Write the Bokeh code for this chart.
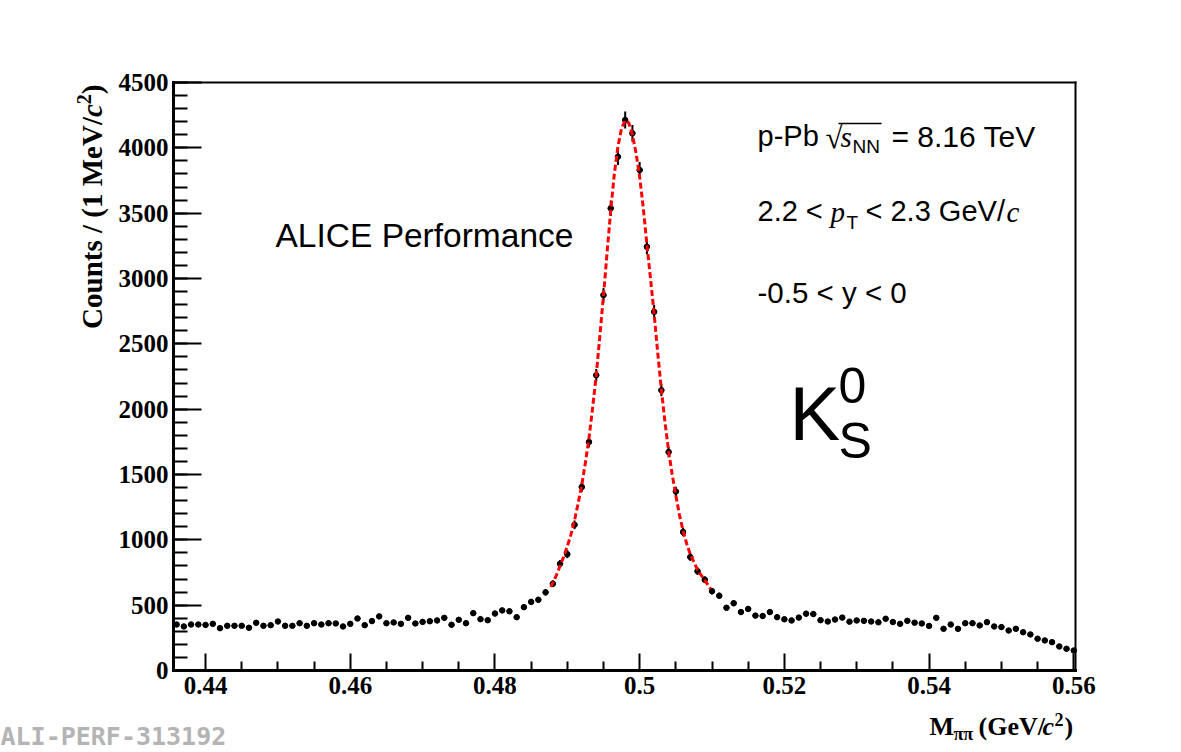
import numpy as np
from bokeh.plotting import figure
from bokeh.models import Label, FixedTicker, CustomJSTickFormatter, Range1d, LinearAxis
from bokeh.embed import file_html
from bokeh.resources import INLINE

# ---------------- data ----------------
bin_first_center = 0.436   # GeV/c^2
bin_width = 0.001          # 1 MeV/c^2 bins

counts = [352, 337, 352, 352, 349, 357, 324, 342, 342, 342,
          327, 365, 342, 347, 375, 342, 342, 362, 342, 362,
          352, 362, 360, 337, 357, 398, 347, 378, 414, 362,
          368, 357, 403, 360, 372, 377, 383, 403, 350, 388,
          362, 439, 393, 385, 436, 460, 453, 408, 485, 525,
          541, 598, 664, 817, 890, 1115, 1404, 1749, 2260, 2873,
          3537, 3932, 4213, 4111, 3830, 3243, 2745, 2145, 1672, 1370,
          1060, 868, 760, 695, 607, 572, 480, 515, 447, 471,
          420, 417, 447, 408, 392, 383, 405, 435, 432, 385,
          375, 390, 405, 374, 383, 380, 375, 369, 396, 371,
          357, 380, 366, 360, 341, 403, 319, 352, 319, 362,
          362, 345, 370, 337, 332, 306, 319, 293, 276, 243,
          230, 217, 184, 166, 153]

errors = [19, 18, 19, 19, 19, 19, 18, 18, 18, 18,
          18, 19, 18, 19, 19, 18, 18, 19, 18, 19,
          19, 19, 19, 18, 19, 20, 19, 19, 20, 19,
          19, 19, 20, 19, 19, 19, 20, 20, 19, 20,
          19, 21, 20, 20, 21, 21, 21, 20, 22, 23,
          23, 24, 26, 29, 30, 33, 37, 42, 48, 54,
          59, 63, 65, 64, 62, 57, 52, 46, 41, 37,
          33, 29, 28, 26, 25, 24, 22, 23, 21, 22,
          20, 20, 21, 20, 20, 20, 20, 21, 21, 20,
          19, 20, 20, 19, 20, 19, 19, 19, 20, 19,
          19, 19, 19, 19, 18, 20, 18, 19, 18, 19,
          19, 19, 19, 18, 18, 17, 18, 17, 17, 16,
          15, 15, 14, 13, 12]

fit_mass = [0.4877, 0.4880, 0.4885, 0.4890, 0.4895, 0.4900, 0.4905, 0.4910,
            0.4915, 0.4920, 0.4925, 0.4930, 0.4935, 0.4940, 0.4945, 0.4950,
            0.4955, 0.4960, 0.4965, 0.4970, 0.4975, 0.4980, 0.4985, 0.4990,
            0.4995, 0.5000, 0.5005, 0.5010, 0.5015, 0.5020, 0.5025, 0.5030,
            0.5035, 0.5040, 0.5045, 0.5050, 0.5055, 0.5060, 0.5065, 0.5070,
            0.5075, 0.5080, 0.5085, 0.5090, 0.5095, 0.5098]
fit_counts = [640, 670, 730, 800, 870, 950, 1040, 1150,
              1280, 1420, 1590, 1780, 2010, 2260, 2560, 2870,
              3200, 3520, 3800, 4010, 4150, 4210, 4190, 4100,
              3960, 3780, 3540, 3260, 3000, 2730, 2430, 2150,
              1900, 1680, 1500, 1340, 1190, 1070, 970, 890,
              830, 770, 730, 690, 650, 625]

x_ticks = [0.44, 0.46, 0.48, 0.50, 0.52, 0.54, 0.56]
x_minor = [0.445, 0.45, 0.455, 0.465, 0.47, 0.475, 0.485, 0.49, 0.495,
           0.505, 0.51, 0.515, 0.525, 0.53, 0.535, 0.545, 0.55, 0.555]
y_ticks = [0, 500, 1000, 1500, 2000, 2500, 3000, 3500, 4000, 4500]
y_minor = [v for v in range(0, 4501, 100)]

# ---------------- layout ----------------
W, H = 1181, 752
X_LO, X_HI = 0.43557, 0.56024          # histogram frame range
Y_LO, Y_HI = 0.0, 4500.0
FRAME_L, FRAME_R, FRAME_T, FRAME_B = 173, 1075, 82, 670   # page pixels of the box

def dx(px):
    return X_LO + (px - FRAME_L) / (FRAME_R - FRAME_L) * (X_HI - X_LO)

def dy(py):
    return Y_LO + (FRAME_B - py) / (FRAME_B - FRAME_T) * (Y_HI - Y_LO)

# the Bokeh frame covers the whole canvas; the histogram box is drawn with
# axes placed at fixed data locations, so that all texts can sit around it
p = figure(width=W, height=H, output_backend="svg", toolbar_location=None,
           x_range=Range1d(dx(0), dx(W)), y_range=Range1d(dy(H), dy(0)),
           min_border=0)
p.title.visible = False
p.grid.visible = False
p.background_fill_color = "white"
p.border_fill_color = "white"
p.outline_line_color = None

xa = p.xaxis[0]
ya = p.yaxis[0]
xa.fixed_location = Y_LO
xa.bounds = (X_LO, X_HI)
ya.fixed_location = X_LO
ya.bounds = (Y_LO, Y_HI)

xa.ticker = FixedTicker(ticks=x_ticks, minor_ticks=x_minor)
xa.formatter = CustomJSTickFormatter(code="return tick.toFixed(2).replace(/0+$/, '');")
ya.ticker = FixedTicker(ticks=y_ticks, minor_ticks=y_minor)

for ax in (xa, ya):
    ax.axis_line_width = 3
    ax.axis_line_color = "black"
    ax.axis_line_cap = "square"
    ax.major_tick_line_width = 2
    ax.minor_tick_line_width = 2
    ax.major_tick_out = 0
    ax.minor_tick_out = 0
    ax.major_label_text_font = "Liberation Serif"
    ax.major_label_text_font_style = "bold"
    ax.major_label_text_font_size = "25px"
    ax.major_label_text_color = "black"

xa.major_tick_in = 17
xa.minor_tick_in = 9
xa.major_label_standoff = 6
ya.major_tick_in = 28
ya.minor_tick_in = 14
ya.major_label_standoff = 5

# top and right edges of the box (no ticks)
top = LinearAxis(fixed_location=Y_HI, bounds=(X_LO, X_HI), ticker=FixedTicker(ticks=[]),
                 major_tick_line_color=None, minor_tick_line_color=None,
                 major_label_text_alpha=0, axis_line_width=2, axis_line_cap="square")
right = LinearAxis(fixed_location=X_HI, bounds=(Y_LO, Y_HI), ticker=FixedTicker(ticks=[]),
                   major_tick_line_color=None, minor_tick_line_color=None,
                   major_label_text_alpha=0, axis_line_width=2, axis_line_cap="square")
p.add_layout(top, "above")
p.add_layout(right, "right")

# ---------------- data marks ----------------
mass = bin_first_center + bin_width * np.arange(len(counts))
cnt = np.array(counts, dtype=float)
err = np.array(errors, dtype=float)

p.segment(x0=mass - 0.4 * bin_width, x1=mass + 0.4 * bin_width, y0=cnt, y1=cnt,
          line_color="black", line_width=1.5)
p.segment(x0=mass, x1=mass, y0=cnt - err, y1=cnt + err,
          line_color="black", line_width=2)
p.scatter(mass, cnt, size=5.5, marker="circle", fill_color="black", line_color="black")

p.line(fit_mass, fit_counts, line_color="#ff0000", line_width=3, line_dash="6 3")

# ---------------- texts ----------------
# the label anchor ends up ~0.35 em above the drawn baseline; compensate so that
# (px, py) below is the wanted baseline position
K_SHIFT = {"Liberation Sans": 0.35, "Liberation Serif": 0.3375, "DejaVu Sans Mono": 0.346}

def lab(text, px, py, size, font="Liberation Sans", style="normal",
        align="left", angle=0.0, color="black"):
    k = K_SHIFT.get(font, 0.35) * size
    if angle:
        ax_, ay_ = px - k, py
    else:
        ax_, ay_ = px, py - k
    p.add_layout(Label(x=dx(ax_), y=dy(ay_), text=text, text_font=font,
                       text_font_style=style, text_font_size=f"{size}px",
                       text_align=align, text_baseline="alphabetic", angle=angle,
                       text_color=color))

# ALICE Performance
lab("ALICE Performance", 275, 247, 33.5)

# line 1: p-Pb sqrt(s_NN) = 8.16 TeV
lab("p-Pb", 757, 146, 29)
lab("\u221a", 825, 147, 31, font="Liberation Serif", style="bold")
lab("s", 840, 146, 29, font="Liberation Serif", style="italic")
lab("NN", 852, 153, 19)
p.segment(x0=[dx(838)], x1=[dx(881)], y0=[dy(123)], y1=[dy(123)],
          line_color="black", line_width=1.5)
lab("= 8.16 TeV", 891, 146, 30)

# line 2: 2.2 < pT < 2.3 GeV/c
lab("2.2 <", 757, 221, 29)
lab("p", 830, 221, 29, font="Liberation Serif", style="italic")
lab("T", 846, 229, 19)
lab("< 2.3 GeV/", 865, 221, 29)
lab("c", 1006, 221, 29, font="Liberation Serif", style="italic")

# line 3
lab("-0.5 < y < 0", 757, 302, 29.5)

# K0S
lab("K", 789, 440, 76)
lab("0", 838, 402, 50)
lab("S", 838, 458, 50)

# y-axis title (rotated, reads bottom to top)
ang = np.pi / 2
lab("Counts / (1 MeV/", 101, 328.4, 29, font="Liberation Serif", style="bold", angle=ang)
lab("c", 101, 116.6, 29, font="Liberation Serif", style="bold italic", angle=ang)
lab("2", 90, 103.7, 20, font="Liberation Serif", style="bold", angle=ang)
lab(")", 101, 93.7, 29, font="Liberation Serif", style="bold", angle=ang)

# x-axis title
lab("M", 929, 735, 26, font="Liberation Serif", style="bold")
lab("\u03c0\u03c0", 953, 740, 18, font="Liberation Serif", style="bold")
lab("(GeV/", 978, 735, 26, font="Liberation Serif", style="bold")
lab("c", 1042, 735, 26, font="Liberation Serif", style="bold italic")
lab("2", 1054, 725, 18, font="Liberation Serif", style="bold")
lab(")", 1064, 735, 26, font="Liberation Serif", style="bold")

# watermark
lab("ALI-PERF-313192", 0, 745, 25, font="DejaVu Sans Mono", style="bold", color="#b4b4b4")

open("out.html", "w").write(file_html(p, INLINE))
